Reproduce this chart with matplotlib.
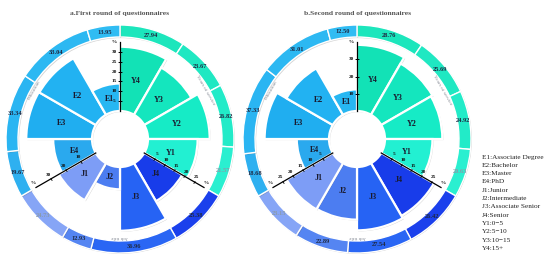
import numpy as np
import matplotlib
matplotlib.use('Agg')
import matplotlib.pyplot as plt
import matplotlib.patheffects as pe

plt.rcParams['font.family'] = ['Liberation Serif', 'DejaVu Serif']

# ---------------- data ----------------
titles = ['a.First round of questionnaires', 'b.Second round of questionnaires']

edu_labels = ['E1', 'E2', 'E3', 'E4']
job_labels = ['J1', 'J2', 'J3', 'J4']
year_labels = ['Y1', 'Y2', 'Y3', 'Y4']

edu_a = [13.95, 33.04, 33.34, 19.67]
job_a = [24.73, 12.93, 36.96, 25.38]
year_a = [21.57, 26.82, 23.67, 27.94]

edu_b = [12.50, 31.01, 37.33, 18.68]
job_b = [23.15, 22.89, 27.54, 26.42]
year_b = [20.63, 24.92, 25.69, 28.76]

axis_max_a = {'E': 35, 'Y': 30, 'J': 40}
axis_max_b = {'E': 40, 'Y': 30, 'J': 30}
tick_step_a = {'E': 5, 'Y': 5, 'J': 10}
tick_step_b = {'E': 10, 'Y': 5, 'J': 5}

group_names = {'E': 'Education', 'Y': 'Years of service', 'J': 'Job title'}

legend_lines = ['E1:Associate Degree', 'E2:Bachelor', 'E3:Master', 'E4:PhD',
                'J1:Junior', 'J2:Intermediate', 'J3:Associate Senior', 'J4:Senior',
                'Y1:0\u22125', 'Y2:5\u221210', 'Y3:10\u221215', 'Y4:15+']

# ---------------- style ----------------
R0, REND, RING_IN, RING_OUT, RMAX = 28, 97, 102, 114, 115
group_start = {'Y': 0, 'J': 120, 'E': 240}     # compass degrees, clockwise
bar_colors = {
    'E': ['#27B7F2', '#22B2F2', '#20AEF0', '#2AA9EE'],
    'Y': ['#22F0D2', '#16EBC6', '#14E6BE', '#12E2B6'],
    'J': ['#7D9DF6', '#4C7DF1', '#2663F4', '#183CEA'],
}
ring_colors = {
    'E': ['#30BCF3', '#2CB8F2', '#2AB5F2', '#2EB0F0'],
    'Y': ['#2AEFD0', '#22EBC8', '#1FE8C2', '#1CE6BC'],
    'J': ['#86A5F6', '#5585F2', '#2A66F4', '#1B40EC'],
}
light_label = {'Y1', 'J1'}
shadow = [pe.SimplePatchShadow(offset=(0.8, -0.8), shadow_rgbFace='#555555', alpha=0.25),
          pe.Normal()]

W, H = 550, 258
fig = plt.figure(figsize=(W / 100, H / 100), dpi=100)

centers = [(120, 139), (357, 139)]
datasets = [
    ({'E': edu_a, 'Y': year_a, 'J': job_a}, axis_max_a, tick_step_a),
    ({'E': edu_b, 'Y': year_b, 'J': job_b}, axis_max_b, tick_step_b),
]
labels = {'E': edu_labels, 'Y': year_labels, 'J': job_labels}


def rad(compass_deg):
    return np.deg2rad(compass_deg)


for (cx, cy), (data, amax, tstep), title in zip(centers, datasets, titles):
    ax = fig.add_axes([(cx - RMAX) / W, (H - cy - RMAX) / H, 2 * RMAX / W, 2 * RMAX / H],
                      projection='polar')
    ax.set_theta_zero_location('N')
    ax.set_theta_direction(-1)
    ax.set_ylim(0, RMAX)
    ax.axis('off')

    for g in ['Y', 'J', 'E']:
        vals = data[g]
        labs = labels[g]
        start = group_start[g]
        order = list(range(3, -1, -1))  # clockwise: 4,3,2,1
        # inner bars
        for k, i in enumerate(order):
            th = start + 15 + 30 * k
            h = vals[i] / amax[g] * (REND - R0)
            bars = ax.bar(rad(th), h, width=rad(30), bottom=R0, color=bar_colors[g][i],
                          edgecolor='white', linewidth=1.6, zorder=2)
            for b in bars:
                b.set_path_effects(shadow)
            ax.text(rad(th), R0 + h * 0.5, labs[i], ha='center', va='center',
                    fontsize=5.8, fontweight='bold', color='#1a1a2e', zorder=5)
        # outer ring
        total = sum(vals)
        cum = start
        for i in order:
            w = vals[i] / total * 120
            bars = ax.bar(rad(cum + w / 2), RING_OUT - RING_IN, width=rad(w), bottom=RING_IN,
                          color=ring_colors[g][i], edgecolor='white', linewidth=1.0, zorder=2)
            for b in bars:
                b.set_path_effects(shadow)
            ax.text(rad(cum + w / 2), (RING_IN + RING_OUT) / 2, f'{vals[i]:.2f}',
                    ha='center', va='center', fontsize=4.6, fontweight='bold',
                    color='#8a9aaa' if labs[i] in light_label else '#1f2a44', zorder=5)
            cum += w
        # group name along the gap
        mid = start + 60
        math_ang = 90 - mid
        rot = math_ang - 90
        if rot < -180:
            rot += 360
        ax.text(rad(mid), 98.5, group_names[g], ha='center', va='center',
                rotation=rot, rotation_mode='anchor', fontsize=3.8, color='#8a8f99',
                zorder=5)
        # radial axis at the clockwise end of the group
        ax_th = start + 120
        ax.plot([rad(ax_th), rad(ax_th)], [R0, REND], color='black', lw=0.9, zorder=6)
        math_ax = 90 - ax_th
        if g == 'E':
            off = np.array([-4.0, 0.0])
        elif g == 'Y':
            off = 3.6 * np.array([np.cos(np.deg2rad(math_ax + 90)), np.sin(np.deg2rad(math_ax + 90))])
        else:
            off = 3.6 * np.array([np.cos(np.deg2rad(math_ax - 90)), np.sin(np.deg2rad(math_ax - 90))])
        ticks = np.arange(tstep[g], amax[g], tstep[g])
        for t in ticks:
            r = R0 + t / amax[g] * (REND - R0)
            ax.plot([rad(ax_th)], [r], marker=(2, 0, math_ax), ms=2.2, mew=0.6,
                    color='black', zorder=6)
            ax.annotate(f'{t:g}', (rad(ax_th), r), xytext=tuple(off), textcoords='offset points',
                        ha='center', va='center', fontsize=3.8, fontweight='bold',
                        color='#111111', zorder=7)
        ax.annotate('%', (rad(ax_th), REND), xytext=tuple(off),
                    textcoords='offset points', ha='center', va='center', fontsize=3.8,
                    fontweight='bold', color='#111111', zorder=7)

    fig.text(cx / W, 1 - 13 / H, title, ha='center', va='center', fontsize=5.4,
             fontweight='bold', color='#555555')

for j, line in enumerate(legend_lines):
    fig.text(482 / W, 1 - (157 + 8.3 * j) / H, line, ha='left', va='center',
             fontsize=5.2, color='#222222')

fig.savefig('out.png', dpi=100)
